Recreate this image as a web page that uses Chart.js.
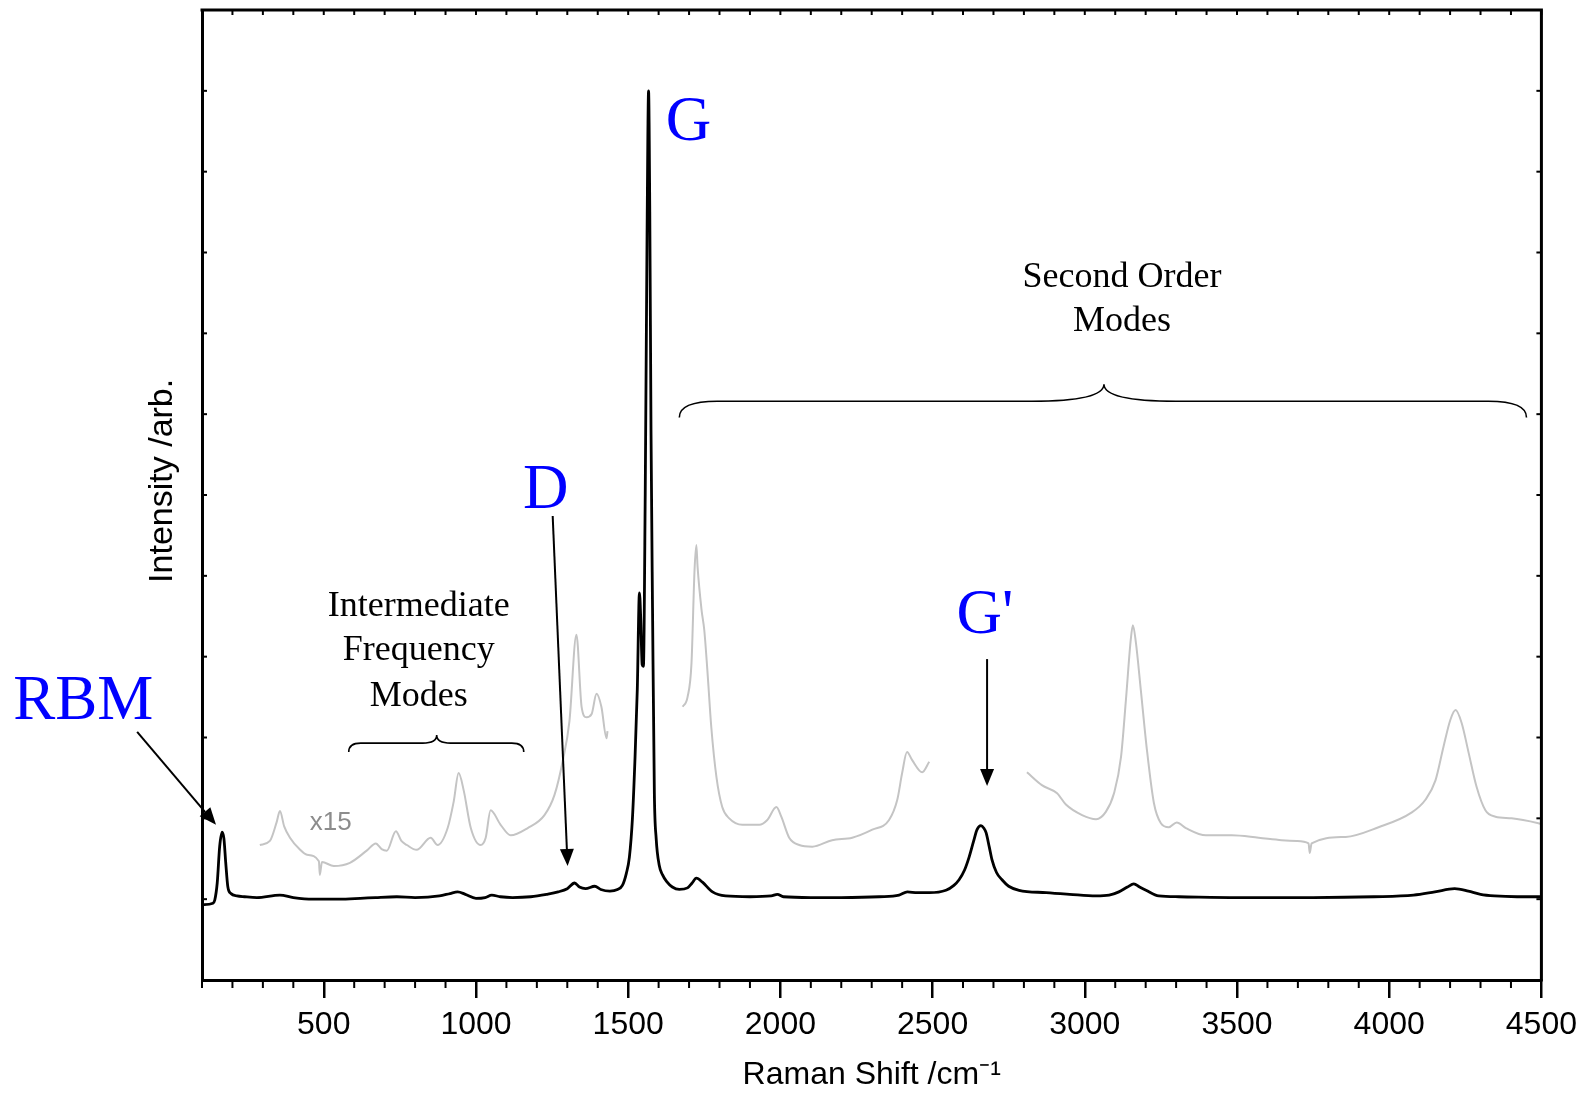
<!DOCTYPE html>
<html>
<head>
<meta charset="utf-8">
<script src="https://cdn.jsdelivr.net/npm/chart.js@4.4.1/dist/chart.umd.min.js"></script>
<style>
html,body{margin:0;padding:0;background:#ffffff;}
#wrap{width:1585px;height:1093px;position:relative;}
</style>
</head>
<body>
<div id="wrap"><canvas id="c"></canvas></div>
<script>
// ---------------- DATA ----------------
// Main spectrum (black)
const shiftMain = [100,136,142,150,158,166,172,178,185,195,215,240,280,356,400,464,550,620,670,740,800,880,915,940,965,1000,1030,1052,1080,1120,1180,1232,1270,1300,1324,1340,1360,1390,1410,1440,1465,1481,1494,1504,1514,1522,1530,1537,1541,1546,1550,1556,1562,1567,1571,1575,1580,1586,1592,1602,1613,1626,1645,1668,1695,1710,1724,1744,1777,1820,1900,1970,1990,2010,2100,2200,2325,2390,2417,2450,2489,2544,2570,2587,2605,2620,2635,2646,2659,2668,2676,2686,2695,2710,2728,2750,2784,2873,2950,3037,3080,3112,3140,3161,3180,3201,3243,3309,3500,3750,3950,4080,4150,4215,4260,4300,4346,4420,4500];
const intensityMain = [0.93,0.95,0.99,1.2,1.65,1.83,1.75,1.45,1.15,1.07,1.04,1.03,1.02,1.05,1.02,1.00,1.00,1.01,1.02,1.03,1.02,1.04,1.07,1.09,1.06,1.01,1.02,1.05,1.03,1.02,1.03,1.06,1.09,1.13,1.20,1.15,1.13,1.16,1.12,1.10,1.12,1.17,1.32,1.52,2.0,2.7,3.6,4.79,4.5,3.9,3.88,6.0,9.2,11.0,9.5,6.8,4.6,2.31,1.75,1.42,1.30,1.22,1.15,1.12,1.14,1.20,1.26,1.21,1.09,1.04,1.03,1.04,1.06,1.03,1.02,1.02,1.03,1.05,1.09,1.08,1.08,1.11,1.17,1.24,1.36,1.52,1.72,1.86,1.91,1.88,1.82,1.65,1.49,1.33,1.24,1.16,1.11,1.08,1.06,1.04,1.05,1.09,1.15,1.19,1.15,1.11,1.04,1.03,1.02,1.02,1.03,1.05,1.09,1.13,1.10,1.06,1.04,1.03,1.03];

// x15 magnified spectrum (grey), three pieces
const shiftX15a = [290,323,345,356,370,389,420,445,484,487,494,533,586,641,671,690,707,737,755,773,805,851,874,907,927,943,960,983,1015,1032,1048,1081,1114,1170,1225,1258,1285,1307,1330,1347,1363,1380,1396,1412,1429,1432];
const intensityX15a = [1.67,1.72,1.95,2.09,1.90,1.76,1.62,1.55,1.47,1.30,1.46,1.41,1.45,1.60,1.69,1.62,1.60,1.84,1.72,1.67,1.61,1.76,1.67,1.88,2.21,2.56,2.34,1.88,1.67,1.76,2.10,1.92,1.79,1.88,2.04,2.29,2.71,3.20,4.27,3.38,3.25,3.29,3.54,3.38,2.99,3.08];
const shiftX15b = [1679,1695,1708,1718,1724,1728,1741,1750,1760,1773,1790,1809,1832,1875,1931,1957,1987,2003,2029,2062,2105,2170,2236,2302,2357,2384,2400,2416,2433,2466,2489];
const intensityX15b = [3.38,3.50,3.92,5.07,5.38,5.11,4.58,4.33,3.84,3.13,2.51,2.14,2.00,1.92,1.92,1.98,2.14,2.02,1.76,1.67,1.65,1.73,1.76,1.86,1.98,2.23,2.56,2.82,2.72,2.57,2.70];
const shiftX15c = [2810,2859,2909,2938,2991,3037,3069,3096,3119,3135,3151,3158,3168,3184,3204,3227,3250,3276,3302,3332,3398,3483,3571,3647,3696,3735,3739,3745,3857,3965,4073,4119,4152,4178,4201,4218,4238,4261,4287,4316,4349,4402,4490,4500];
const intensityX15c = [2.57,2.41,2.31,2.17,2.04,1.99,2.08,2.31,2.76,3.46,4.21,4.39,4.17,3.59,2.85,2.19,1.94,1.89,1.95,1.88,1.79,1.79,1.76,1.73,1.72,1.69,1.57,1.69,1.77,1.89,2.07,2.23,2.47,2.88,3.22,3.34,3.18,2.81,2.39,2.10,2.02,2.00,1.94,1.93];

// Axis ticks
const xLabelledTicks = [500,1000,1500,2000,2500,3000,3500,4000,4500];
const xRange = [100, 4500];
const yRange = [0, 12];

// Annotation texts
const peakLabels = ['RBM', 'G', 'D', "G'"];
const intermediateText = ['Intermediate', 'Frequency', 'Modes'];
const secondOrderText = ['Second Order', 'Modes'];
const magnificationText = 'x15';
// ----------------------------------------------------------------

const pts = (xs, ys) => xs.map((v, i) => ({x: v, y: ys[i]}));
const SANS = '"Liberation Sans", Arial, Helvetica, sans-serif';
const SERIF = '"Liberation Serif", "Times New Roman", Times, serif';
const GREY = '#c4c4c4';

// annotation placement (in data units of the chart's own scales)
const peakLabelPos = [[-290, 3.43], [1698, 10.60], [1229, 6.04], [2672, 4.50]];
const arrows = [
  {from: [-113, 3.07], to: [146, 1.92]},
  {from: [1252, 5.74], to: [1301, 1.41]},
  {from: [2679, 3.97], to: [2679, 2.40]}
];
const braces = [
  {x0: 582, x1: 1157, xc: 871, vEnd: 2.82, vLine: 2.93, vTip: 3.03, rEnd: 12, rMid: 14},
  {x0: 1668, x1: 4451, xc: 3063, vEnd: 6.96, vLine: 7.16, vTip: 7.37, rEnd: 38, rMid: 72}
];
const intermediatePos = {x: 812, v: [4.62, 4.07, 3.51]};
const secondOrderPos = {x: 3122, v: [8.69, 8.14]};
const magnificationPos = [523, 1.95];

const decor = {
  id: 'decor',
  afterDraw(chart) {
    const {ctx, chartArea: a, scales: {x, y}} = chart;
    const X = v => x.getPixelForValue(v);
    const Y = v => y.getPixelForValue(v);
    ctx.save();
    // frame: top and right
    ctx.strokeStyle = '#000';
    ctx.lineWidth = 3;
    ctx.beginPath();
    ctx.moveTo(a.left - 1.5, a.top);
    ctx.lineTo(a.right, a.top);
    ctx.lineTo(a.right, a.bottom + 1.5);
    ctx.stroke();
    // minor / inward ticks
    ctx.lineWidth = 2;
    x.ticks.forEach(t => {
      const px = X(t.value);
      ctx.beginPath(); ctx.moveTo(px, a.top); ctx.lineTo(px, a.top + 5); ctx.stroke();
      if (!xLabelledTicks.includes(t.value)) {
        ctx.beginPath(); ctx.moveTo(px, a.bottom); ctx.lineTo(px, a.bottom + 8); ctx.stroke();
      }
    });
    y.ticks.forEach(t => {
      const py = Y(t.value);
      ctx.beginPath(); ctx.moveTo(a.left, py); ctx.lineTo(a.left + 5, py); ctx.stroke();
      ctx.beginPath(); ctx.moveTo(a.right, py); ctx.lineTo(a.right - 5, py); ctx.stroke();
    });
    // arrows
    ctx.lineWidth = 2;
    ctx.fillStyle = '#000';
    arrows.forEach(ar => {
      const x0 = X(ar.from[0]), y0 = Y(ar.from[1]), x1 = X(ar.to[0]), y1 = Y(ar.to[1]);
      const ang = Math.atan2(y1 - y0, x1 - x0);
      const L = 17, W = 7;
      const bx = x1 - L * Math.cos(ang), by = y1 - L * Math.sin(ang);
      ctx.beginPath(); ctx.moveTo(x0, y0); ctx.lineTo(bx, by); ctx.stroke();
      ctx.beginPath();
      ctx.moveTo(x1, y1);
      ctx.lineTo(bx + W * Math.sin(ang), by - W * Math.cos(ang));
      ctx.lineTo(bx - W * Math.sin(ang), by + W * Math.cos(ang));
      ctx.closePath(); ctx.fill();
    });
    // braces
    ctx.lineWidth = 1.6;
    braces.forEach(b => {
      const x0 = X(b.x0), x1 = X(b.x1), xc = X(b.xc);
      const ye = Y(b.vEnd), yl = Y(b.vLine), yt = Y(b.vTip);
      ctx.beginPath();
      ctx.moveTo(x0, ye);
      ctx.quadraticCurveTo(x0, yl, x0 + b.rEnd, yl);
      ctx.lineTo(xc - b.rMid, yl);
      ctx.quadraticCurveTo(xc, yl, xc, yt);
      ctx.quadraticCurveTo(xc, yl, xc + b.rMid, yl);
      ctx.lineTo(x1 - b.rEnd, yl);
      ctx.quadraticCurveTo(x1, yl, x1, ye);
      ctx.stroke();
    });
    // texts
    ctx.textAlign = 'center';
    ctx.textBaseline = 'middle';
    ctx.fillStyle = '#0000ff';
    ctx.font = '63px ' + SERIF;
    peakLabels.forEach((s, i) => ctx.fillText(s, X(peakLabelPos[i][0]), Y(peakLabelPos[i][1])));
    ctx.fillStyle = '#000';
    ctx.font = '36px ' + SERIF;
    intermediateText.forEach((s, i) => ctx.fillText(s, X(intermediatePos.x), Y(intermediatePos.v[i])));
    secondOrderText.forEach((s, i) => ctx.fillText(s, X(secondOrderPos.x), Y(secondOrderPos.v[i])));
    ctx.fillStyle = '#8c8c8c';
    ctx.font = '26px ' + SANS;
    ctx.fillText(magnificationText, X(magnificationPos[0]), Y(magnificationPos[1]));
    ctx.restore();
  }
};

const greyStyle = {borderColor: GREY, borderWidth: 2, pointRadius: 0, showLine: true, fill: false, cubicInterpolationMode: 'monotone'};

new Chart(document.getElementById('c'), {
  type: 'scatter',
  data: {
    datasets: [
      Object.assign({label: 'x15 (a)', data: pts(shiftX15a, intensityX15a)}, greyStyle),
      Object.assign({label: 'x15 (b)', data: pts(shiftX15b, intensityX15b)}, greyStyle),
      Object.assign({label: 'x15 (c)', data: pts(shiftX15c, intensityX15c)}, greyStyle),
      {label: 'Raman spectrum', data: pts(shiftMain, intensityMain), borderColor: '#000', borderWidth: 2.8,
       pointRadius: 0, showLine: true, fill: false, cubicInterpolationMode: 'monotone'}
    ]
  },
  options: {
    responsive: true,
    maintainAspectRatio: false,
    animation: false,
    events: [],
    layout: {padding: {left: 0, top: 10, right: 42, bottom: 0}},
    plugins: {legend: {display: false}, tooltip: {enabled: false}},
    scales: {
      x: {
        type: 'linear', position: 'bottom', min: xRange[0], max: xRange[1],
        afterFit: s => { s.height = 113; },
        ticks: {
          stepSize: 100, autoSkip: false, maxRotation: 0, color: '#000', padding: 8,
          font: {family: SANS, size: 32},
          callback: v => xLabelledTicks.includes(v) ? String(v) : ''
        },
        grid: {
          display: true, drawOnChartArea: false, drawTicks: true, tickLength: 18,
          lineWidth: 2.5,
          color: c => (c.tick && xLabelledTicks.includes(c.tick.value)) ? '#000' : 'rgba(0,0,0,0)'
        },
        border: {display: true, color: '#000', width: 3},
        title: {display: true, text: 'Raman Shift /cm\u207B\u00B9', color: '#000',
                font: {family: SANS, size: 32, lineHeight: 1.05}, padding: {top: 0, bottom: 1}}
      },
      y: {
        type: 'linear', position: 'left', min: yRange[0], max: yRange[1],
        afterFit: s => { s.width = 202; },
        ticks: {stepSize: 1, display: false},
        grid: {display: false},
        border: {display: true, color: '#000', width: 3},
        title: {display: true, text: '   Intensity /arb.', color: '#000',
                font: {family: SANS, size: 34}, padding: {top: 142, bottom: 0}}
      }
    }
  },
  plugins: [decor]
});
</script>
</body>
</html>
